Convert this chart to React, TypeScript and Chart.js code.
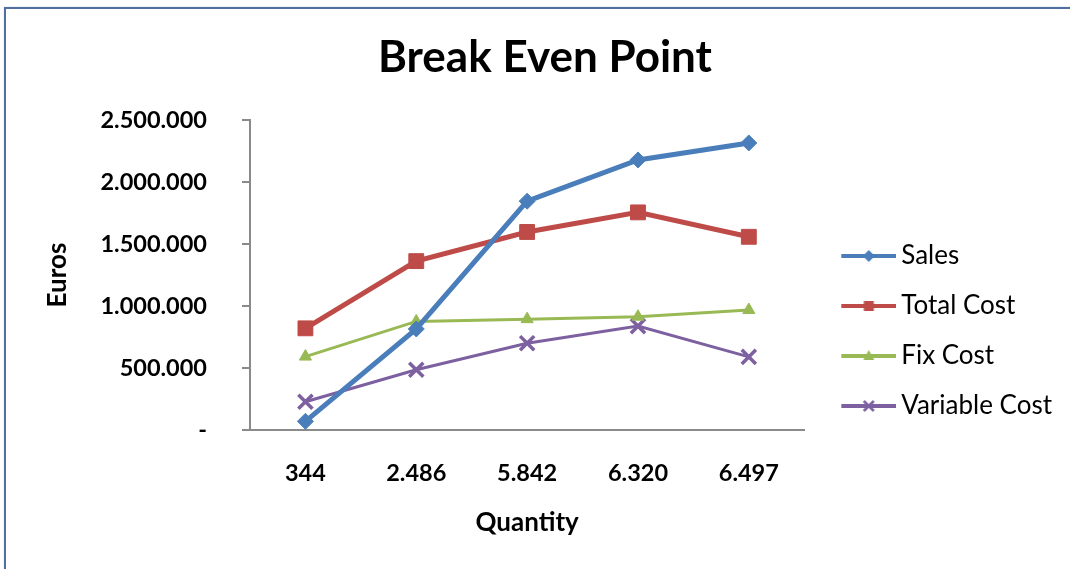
import React, { useEffect, useRef } from 'react';
import { Chart, registerables } from 'chart.js';

Chart.register(...registerables);

// Quantities sold (category labels on the x axis)
const quantities = ['344', '2.486', '5.842', '6.320', '6.497'];

// Euro amounts per quantity
const sales = [70000, 815000, 1845000, 2178000, 2315000];
const totalCost = [820000, 1362000, 1597000, 1755000, 1558000];
const fixCost = [592000, 876000, 894000, 914000, 968000];
const variableCost = [228000, 486000, 700000, 838000, 590000];

// Euro axis ticks and their printed labels
const euroTicks = [0, 500000, 1000000, 1500000, 2000000, 2500000];
const euroTickLabels = ['-', '500.000', '1.000.000', '1.500.000', '2.000.000', '2.500.000'];

const BLUE = '#4a7ebb';
const RED = '#be4b48';
const GREEN = '#98b954';
const PURPLE = '#7d60a0';
const AXIS = '#8a8a8a';
const FONT = 'Lato';

type Marker = 'diamond' | 'square' | 'triangle' | 'cross';

// Legend swatch: a short line with the series marker in its middle
function legendSample(color: string, marker: Marker): HTMLCanvasElement {
  const c = document.createElement('canvas');
  c.width = 76;
  c.height = 22;
  const ctx = c.getContext('2d')!;
  const y = 11;
  ctx.strokeStyle = color;
  ctx.fillStyle = color;
  ctx.lineWidth = 4;
  ctx.beginPath();
  ctx.moveTo(21, y);
  ctx.lineTo(76, y);
  ctx.stroke();
  const cx = 48.5;
  ctx.beginPath();
  if (marker === 'diamond') {
    ctx.moveTo(cx, y - 6);
    ctx.lineTo(cx + 6, y);
    ctx.lineTo(cx, y + 6);
    ctx.lineTo(cx - 6, y);
    ctx.closePath();
    ctx.fill();
  } else if (marker === 'square') {
    ctx.fillRect(cx - 5, y - 5, 10, 10);
  } else if (marker === 'triangle') {
    ctx.moveTo(cx, y - 6);
    ctx.lineTo(cx + 5.5, y + 4);
    ctx.lineTo(cx - 5.5, y + 4);
    ctx.closePath();
    ctx.fill();
  } else {
    ctx.lineWidth = 2.5;
    ctx.moveTo(cx - 5, y - 5);
    ctx.lineTo(cx + 5, y + 5);
    ctx.moveTo(cx + 5, y - 5);
    ctx.lineTo(cx - 5, y + 5);
    ctx.stroke();
  }
  return c;
}

export default function App() {
  const canvasRef = useRef<HTMLCanvasElement | null>(null);

  useEffect(() => {
    const canvas = canvasRef.current;
    if (!canvas) return;

    const samples = [
      legendSample(BLUE, 'diamond'),
      legendSample(RED, 'square'),
      legendSample(GREEN, 'triangle'),
      legendSample(PURPLE, 'cross'),
    ];

    const chart = new Chart(canvas, {
      type: 'line',
      data: {
        labels: quantities,
        datasets: [
          {
            label: 'Sales',
            data: sales,
            borderColor: BLUE,
            backgroundColor: BLUE,
            borderWidth: 5,
            pointStyle: 'rectRot',
            pointRadius: 8,
            pointBorderWidth: 1,
          },
          {
            label: 'Total Cost',
            data: totalCost,
            borderColor: RED,
            backgroundColor: RED,
            borderWidth: 5,
            pointStyle: 'rect',
            pointRadius: 10.5,
            pointBorderWidth: 1,
          },
          {
            label: 'Fix Cost',
            data: fixCost,
            borderColor: GREEN,
            backgroundColor: GREEN,
            borderWidth: 3,
            pointStyle: 'triangle',
            pointRadius: 7,
            pointBorderWidth: 1,
          },
          {
            label: 'Variable Cost',
            data: variableCost,
            borderColor: PURPLE,
            backgroundColor: PURPLE,
            borderWidth: 3,
            pointStyle: 'crossRot',
            pointRadius: 10,
            pointBorderWidth: 3.5,
          },
        ],
      },
      options: {
        responsive: false,
        animation: false,
        events: [],
        layout: { padding: { top: 0, left: 28, right: 8, bottom: 30.4 } },
        elements: { line: { tension: 0 } },
        plugins: {
          title: {
            display: true,
            text: 'Break Even Point',
            color: '#000',
            font: { family: FONT, size: 44, weight: 'bold' },
            padding: { top: 31.6, bottom: 35.6 },
          },
          legend: {
            display: true,
            position: 'right',
            align: 'start',
            fullSize: true,
            title: {
              display: true,
              text: ' ',
              font: { family: FONT, size: 10 },
              padding: { top: 207, bottom: 0 },
            },
            labels: {
              usePointStyle: true,
              pointStyleWidth: 60,
              padding: 24,
              color: '#000',
              font: { family: FONT, size: 26 },
              generateLabels: (c: Chart) =>
                c.data.datasets.map((ds, i) => ({
                  text: String(ds.label),
                  pointStyle: samples[i] as any,
                  fillStyle: 'transparent',
                  strokeStyle: 'transparent',
                  lineWidth: 0,
                  hidden: false,
                  datasetIndex: i,
                  fontColor: '#000',
                })),
            },
          },
          tooltip: { enabled: false },
        },
        scales: {
          x: {
            type: 'category',
            offset: true,
            grid: {
              display: true,
              drawOnChartArea: false,
              drawTicks: true,
              tickLength: 29,
              color: 'transparent',
            },
            border: { display: true, color: AXIS, width: 2 },
            ticks: {
              color: '#000',
              padding: 0,
              font: { family: FONT, size: 23.5, weight: 'bold' },
            },
            title: {
              display: true,
              text: 'Quantity',
              color: '#000',
              font: { family: FONT, size: 26, weight: 'bold' },
              padding: { top: 20.2, bottom: 0 },
            },
          },
          y: {
            min: 0,
            max: 2500000,
            grid: {
              display: true,
              drawOnChartArea: false,
              drawTicks: true,
              tickLength: 8,
              color: AXIS,
              lineWidth: 2,
            },
            border: { display: true, color: AXIS, width: 2 },
            ticks: {
              stepSize: 500000,
              color: '#000',
              padding: 35,
              font: { family: FONT, size: 23.5, weight: 'bold' },
              callback: (value: string | number) => {
                const idx = euroTicks.indexOf(Number(value));
                return idx >= 0 ? euroTickLabels[idx] : '';
              },
            },
            title: {
              display: true,
              text: 'Euros',
              color: '#000',
              font: { family: FONT, size: 26, weight: 'bold' },
              padding: { top: 14.4, bottom: 0 },
            },
            afterFit: (scale: any) => {
              scale.width = 222;
            },
          },
        },
      },
    });

    return () => chart.destroy();
  }, []);

  return (
    <div
      style={{
        position: 'fixed',
        left: 0,
        top: 0,
        width: 1070,
        height: 569,
        overflow: 'hidden',
        background: '#fff',
      }}
    >
      <div
        style={{
          position: 'absolute',
          left: 4,
          top: 7,
          width: 1100,
          height: 600,
          border: '2px solid #4f6f9f',
          boxShadow: '0 0 1px #a9b9d2',
        }}
      />
      <canvas
        ref={canvasRef}
        width={1070}
        height={569}
        style={{ position: 'absolute', left: 0, top: 0, width: 1070, height: 569 }}
      />
    </div>
  );
}
